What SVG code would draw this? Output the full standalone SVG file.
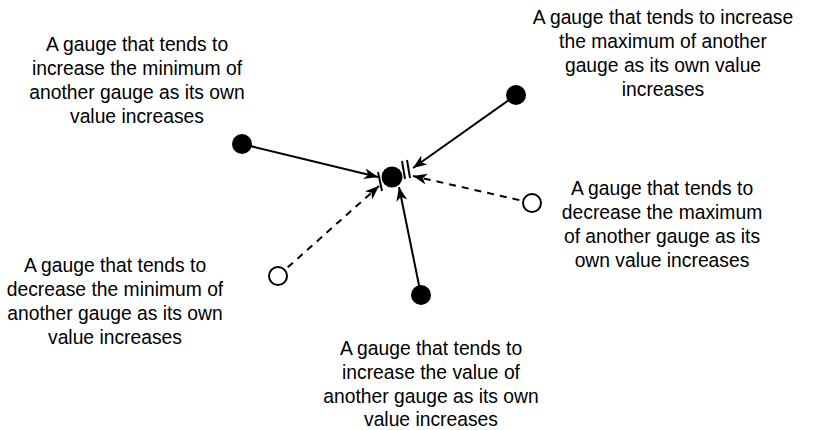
<svg xmlns="http://www.w3.org/2000/svg" width="816" height="430" viewBox="0 0 816 430">
<style>
.lbl{font-family:"Liberation Sans",Arial,sans-serif;font-size:19.3px;fill:#000;text-anchor:middle}
.solid{stroke:#000;stroke-width:2;fill:none;marker-end:url(#arr)}
.dash{stroke:#000;stroke-width:2;fill:none;stroke-dasharray:7,6;marker-end:url(#arr)}
.bar{stroke:#000;stroke-width:2}
.full{fill:#000}
.open{fill:#fff;stroke:#000;stroke-width:2}
</style>
<defs>
<marker id="arr" markerUnits="userSpaceOnUse" markerWidth="16" markerHeight="12" refX="14" refY="5.5" orient="auto">
<path d="M0,0 L14,5.5 L0,11 L4,5.5 Z" fill="#000"/>
</marker>
</defs>
<rect width="816" height="430" fill="#fff"/>
<g id="connectors">
<line class="solid" x1="242" y1="144" x2="378" y2="177"/>
<line class="dash" x1="278" y1="276" x2="379" y2="186"/>
<line class="solid" x1="516" y1="95" x2="413" y2="168"/>
<line class="dash" x1="532" y1="203" x2="413" y2="176"/>
<line class="solid" x1="421" y1="295" x2="399" y2="187"/>
<line class="bar" x1="378" y1="172" x2="382" y2="191"/>
<line class="bar" x1="402" y1="161" x2="405" y2="179"/>
<line class="bar" x1="407" y1="160" x2="410" y2="178"/>
</g>
<g id="center"><circle class="full" cx="392" cy="177" r="10.5"/></g>
<g id="inc-min">
<circle class="full" cx="242" cy="144" r="10"/>
<text class="lbl" x="137" y="51">A gauge that tends to</text>
<text class="lbl" x="137" y="75">increase the minimum of</text>
<text class="lbl" x="137" y="99">another gauge as its own</text>
<text class="lbl" x="137" y="123">value increases</text>
</g>
<g id="inc-max">
<circle class="full" cx="516" cy="95" r="10"/>
<text class="lbl" x="663" y="24">A gauge that tends to increase</text>
<text class="lbl" x="663" y="48">the maximum of another</text>
<text class="lbl" x="663" y="72">gauge as its own value</text>
<text class="lbl" x="663" y="96">increases</text>
</g>
<g id="dec-max">
<circle class="open" cx="532" cy="203" r="9"/>
<text class="lbl" x="662" y="195">A gauge that tends to</text>
<text class="lbl" x="662" y="219">decrease the maximum</text>
<text class="lbl" x="662" y="243">of another gauge as its</text>
<text class="lbl" x="662" y="267">own value increases</text>
</g>
<g id="dec-min">
<circle class="open" cx="278" cy="276" r="9"/>
<text class="lbl" x="115" y="272">A gauge that tends to</text>
<text class="lbl" x="115" y="296">decrease the minimum of</text>
<text class="lbl" x="115" y="320">another gauge as its own</text>
<text class="lbl" x="115" y="344">value increases</text>
</g>
<g id="inc-val">
<circle class="full" cx="421" cy="295" r="10"/>
<text class="lbl" x="431" y="355">A gauge that tends to</text>
<text class="lbl" x="431" y="379">increase the value of</text>
<text class="lbl" x="431" y="403">another gauge as its own</text>
<text class="lbl" x="431" y="426">value increases</text>
</g>
</svg>
